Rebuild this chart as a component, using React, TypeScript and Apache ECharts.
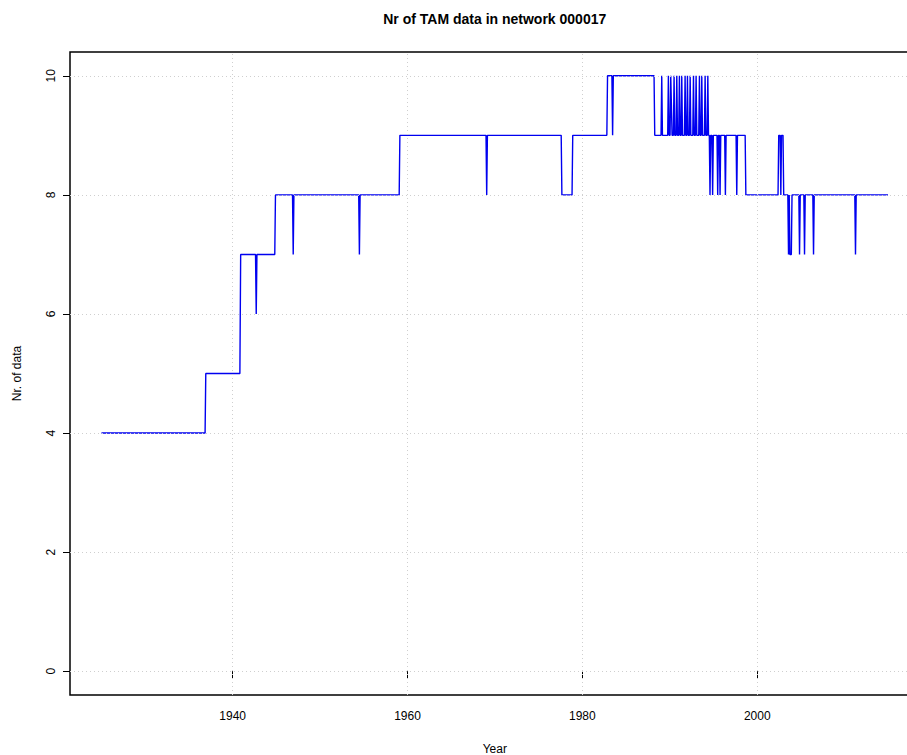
import React, { useEffect, useRef } from "react";
import * as echarts from "echarts";

// Station count per period: [start year, end year, number of data]
const levelRuns: [number, number, number][] = [
  [1925.0, 1936.85, 4],
  [1936.93, 1940.83, 5],
  [1940.92, 1942.62, 7],
  [1942.7, 1942.7, 6],
  [1942.78, 1944.82, 7],
  [1944.9, 1946.85, 8],
  [1946.93, 1946.93, 7],
  [1947.01, 1954.42, 8],
  [1954.5, 1954.5, 7],
  [1954.58, 1959.05, 8],
  [1959.13, 1968.98, 9],
  [1969.06, 1969.06, 8],
  [1969.14, 1977.58, 9],
  [1977.66, 1978.82, 8],
  [1978.9, 1982.8, 9],
  [1982.88, 1983.38, 10],
  [1983.46, 1983.46, 9],
  [1983.54, 1988.2, 10],
  [1988.28, 1989.0, 9],
  [1989.08, 1989.08, 10],
  [1989.16, 1989.76, 9],
  [1989.84, 1989.84, 10],
  [1989.92, 1990.03, 9],
  [1990.11, 1990.18, 10],
  [1990.26, 1990.41, 9],
  [1990.49, 1990.49, 10],
  [1990.57, 1990.72, 9],
  [1990.8, 1990.8, 10],
  [1990.88, 1991.02, 9],
  [1991.1, 1991.1, 10],
  [1991.18, 1991.29, 9],
  [1991.37, 1991.37, 10],
  [1991.45, 1991.67, 9],
  [1991.75, 1991.75, 10],
  [1991.83, 1991.94, 9],
  [1992.02, 1992.02, 10],
  [1992.1, 1992.25, 9],
  [1992.33, 1992.33, 10],
  [1992.41, 1992.63, 9],
  [1992.71, 1992.71, 10],
  [1992.79, 1992.93, 9],
  [1993.01, 1993.01, 10],
  [1993.09, 1993.31, 9],
  [1993.39, 1993.39, 10],
  [1993.47, 1993.58, 9],
  [1993.66, 1993.66, 10],
  [1993.74, 1993.96, 9],
  [1994.04, 1994.04, 10],
  [1994.12, 1994.27, 9],
  [1994.35, 1994.35, 10],
  [1994.43, 1994.52, 9],
  [1994.6, 1994.6, 8],
  [1994.68, 1994.82, 9],
  [1994.9, 1994.9, 8],
  [1994.98, 1995.4, 9],
  [1995.48, 1995.48, 8],
  [1995.56, 1995.67, 9],
  [1995.75, 1995.75, 8],
  [1995.83, 1996.28, 9],
  [1996.36, 1996.36, 8],
  [1996.44, 1997.58, 9],
  [1997.66, 1997.66, 8],
  [1997.74, 1998.62, 9],
  [1998.7, 2002.38, 8],
  [2002.46, 2002.62, 9],
  [2002.7, 2002.7, 8],
  [2002.78, 2002.95, 9],
  [2003.03, 2003.5, 8],
  [2003.58, 2003.58, 7],
  [2003.66, 2003.66, 8],
  [2003.74, 2003.9, 7],
  [2003.98, 2004.76, 8],
  [2004.84, 2004.84, 7],
  [2004.92, 2005.33, 8],
  [2005.41, 2005.41, 7],
  [2005.49, 2006.36, 8],
  [2006.44, 2006.44, 7],
  [2006.52, 2011.16, 8],
  [2011.24, 2011.24, 7],
  [2011.32, 2014.96, 8],
];

const yearTicks = [1940, 1960, 1980, 2000];
const countTicks = [0, 2, 4, 6, 8, 10];

const TITLE = "Nr of TAM data in network 000017";
const X_NAME = "Year";
const Y_NAME = "Nr. of data";

const FONT = '"Liberation Sans", Arial, Helvetica, sans-serif';

export default function App() {
  const ref = useRef<HTMLDivElement>(null);

  useEffect(() => {
    if (!ref.current) return;
    const chart = echarts.init(ref.current, null, { renderer: "svg" });

    const points: [number, number][] = [];
    levelRuns.forEach(([s, e, v]) => {
      points.push([s, v]);
      if (e !== s) points.push([e, v]);
    });

    const gridLeft = 70;
    const gridTop = 52;
    const gridRight = 5.5;
    const gridBottom = 60;
    const width = 925;
    const plotCenterX = gridLeft + (width - gridLeft - gridRight) / 2;
    const plotCenterY = gridTop + (755 - gridTop - gridBottom) / 2;

    chart.setOption({
      animation: false,
      backgroundColor: "#ffffff",
      textStyle: { fontFamily: FONT },
      grid: {
        left: gridLeft,
        right: gridRight,
        top: gridTop,
        bottom: gridBottom,
        show: true,
        borderColor: "#000000",
        borderWidth: 1.5,
        backgroundColor: "transparent",
      },
      xAxis: {
        type: "value",
        min: 1921.4,
        max: 2018.56,
        axisLine: { show: false },
        splitLine: { show: false },
        axisTick: {
          show: true,
          customValues: yearTicks,
          length: 7,
          lineStyle: { color: "#000000", width: 1 },
        },
        axisLabel: {
          customValues: yearTicks,
          formatter: (v: number) => String(v),
          color: "#000000",
          fontSize: 12,
          fontFamily: FONT,
          margin: 15,
        },
      },
      yAxis: {
        type: "value",
        min: -0.4,
        max: 10.4,
        axisLine: { show: false },
        splitLine: { show: false },
        axisTick: {
          show: true,
          customValues: countTicks,
          length: 7,
          lineStyle: { color: "#000000", width: 1 },
        },
        axisLabel: {
          customValues: countTicks,
          formatter: (v: number) => String(v),
          rotate: 90,
          color: "#000000",
          fontSize: 12,
          fontFamily: FONT,
          margin: 13,
        },
      },
      graphic: [
        {
          type: "text",
          x: plotCenterX,
          y: 19,
          style: {
            text: TITLE,
            fill: "#000000",
            fontSize: 14,
            fontWeight: "bold",
            fontFamily: FONT,
            align: "center",
            verticalAlign: "middle",
          },
        },
        {
          type: "text",
          x: plotCenterX,
          y: 749,
          style: {
            text: X_NAME,
            fill: "#000000",
            fontSize: 12,
            fontFamily: FONT,
            align: "center",
            verticalAlign: "middle",
          },
        },
        {
          type: "text",
          x: 17,
          y: plotCenterY,
          rotation: Math.PI / 2,
          style: {
            text: Y_NAME,
            fill: "#000000",
            fontSize: 12,
            fontFamily: FONT,
            align: "center",
            verticalAlign: "middle",
          },
        },
      ],
      series: [
        {
          type: "line",
          data: points,
          showSymbol: false,
          symbol: "none",
          silent: true,
          lineStyle: { color: "#0000f0", width: 1.4 },
          markLine: {
            silent: true,
            symbol: "none",
            animation: false,
            label: { show: false },
            lineStyle: { color: "#cfcfcf", type: [1, 3], width: 1 },
            emphasis: { disabled: true },
            data: [
              ...countTicks.map((v) => ({ yAxis: v })),
              ...yearTicks.map((v) => ({ xAxis: v })),
            ],
          },
        },
      ],
    });

    return () => chart.dispose();
  }, []);

  return (
    <div
      style={{
        position: "fixed",
        left: 0,
        top: 0,
        width: 907,
        height: 755,
        overflow: "hidden",
        background: "#ffffff",
      }}
    >
      <div ref={ref} style={{ width: 925, height: 755 }} />
    </div>
  );
}
